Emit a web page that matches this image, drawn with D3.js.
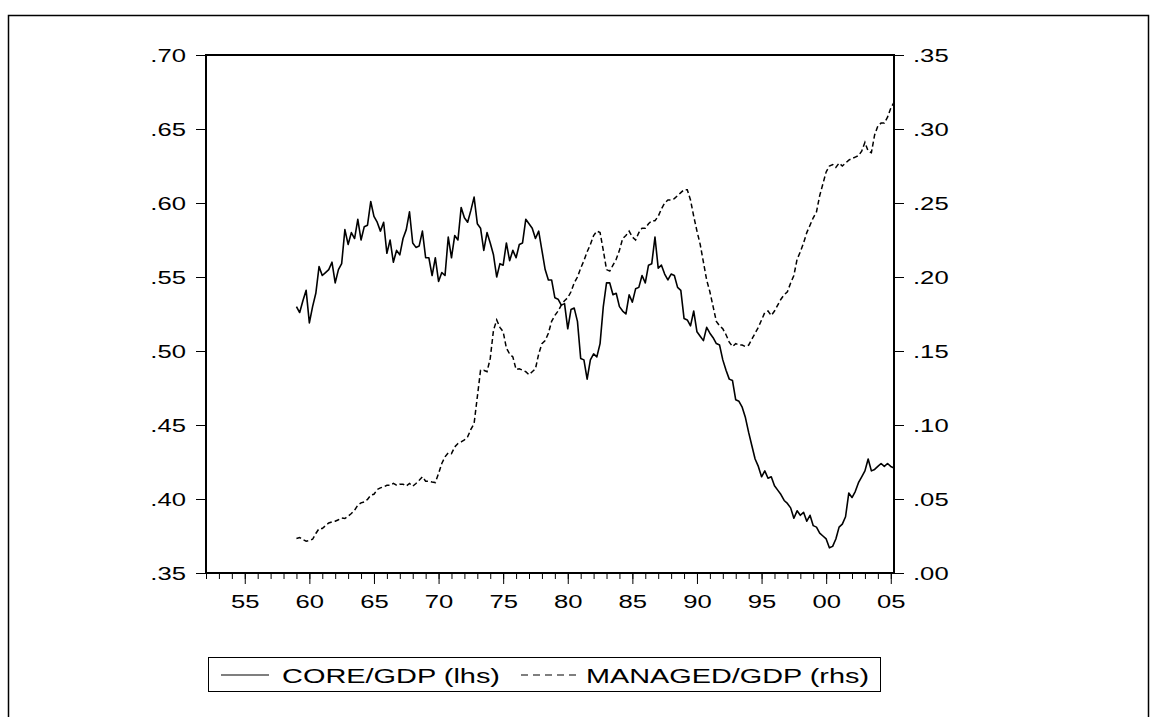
<!DOCTYPE html>
<html>
<head>
<meta charset="utf-8">
<script src="https://cdn.jsdelivr.net/npm/d3@7"></script>
<style>
  body { margin: 0; background: #fff; }
  svg { display: block; font-family: "Liberation Sans", Arial, sans-serif; }
</style>
</head>
<body>
<svg id="chart" width="1158" height="717"></svg>
<script>
// quarterly data, 1959Q1 .. 2005Q2
const startYear = 1959;

const coreGdp = [
  0.530, 0.526, 0.534, 0.541, 0.519, 0.530, 0.539, 0.557, 0.551, 0.553,
  0.555, 0.560, 0.546, 0.555, 0.559, 0.582, 0.572, 0.580, 0.576, 0.589,
  0.575, 0.584, 0.585, 0.601, 0.591, 0.587, 0.581, 0.587, 0.566, 0.575,
  0.560, 0.568, 0.565, 0.576, 0.582, 0.594, 0.573, 0.570, 0.571, 0.581,
  0.563, 0.563, 0.551, 0.563, 0.547, 0.553, 0.551, 0.577, 0.563, 0.578,
  0.575, 0.597, 0.590, 0.587, 0.595, 0.604, 0.586, 0.583, 0.568, 0.580,
  0.573, 0.565, 0.550, 0.559, 0.558, 0.573, 0.561, 0.568, 0.563, 0.572,
  0.573, 0.589, 0.586, 0.583, 0.576, 0.581, 0.568, 0.555, 0.548, 0.548,
  0.536, 0.535, 0.531, 0.532, 0.515, 0.528, 0.529, 0.520, 0.495, 0.494,
  0.481, 0.494, 0.498, 0.496, 0.505, 0.530, 0.546, 0.546, 0.538, 0.539,
  0.530, 0.527, 0.525, 0.538, 0.533, 0.542, 0.543, 0.551, 0.546, 0.558,
  0.559, 0.577, 0.556, 0.558, 0.552, 0.548, 0.552, 0.551, 0.543, 0.541,
  0.522, 0.521, 0.517, 0.527, 0.513, 0.510, 0.507, 0.516, 0.512, 0.509,
  0.505, 0.504, 0.494, 0.487, 0.481, 0.480, 0.467, 0.466, 0.462, 0.455,
  0.445, 0.436, 0.427, 0.422, 0.415, 0.419, 0.414, 0.415, 0.409, 0.406,
  0.403, 0.399, 0.397, 0.394, 0.387, 0.392, 0.389, 0.391, 0.385, 0.389,
  0.382, 0.381, 0.377, 0.375, 0.373, 0.367, 0.368, 0.373, 0.381, 0.383,
  0.388, 0.404, 0.401, 0.405, 0.411, 0.415, 0.419, 0.427, 0.419, 0.420,
  0.422, 0.424, 0.422, 0.424, 0.422, 0.421
];

const managedGdp = [
  0.0233, 0.0240, 0.0226, 0.0215, 0.0220, 0.0228, 0.0267, 0.0300, 0.0300, 0.0320,
  0.0338, 0.0345, 0.0350, 0.0360, 0.0372, 0.0368, 0.0384, 0.0402, 0.0424, 0.0458,
  0.0474, 0.0480, 0.0497, 0.0526, 0.0532, 0.0564, 0.0575, 0.0582, 0.0593, 0.0593,
  0.0605, 0.0593, 0.0600, 0.0600, 0.0588, 0.0605, 0.0586, 0.0605, 0.0627, 0.0650,
  0.0620, 0.0620, 0.0615, 0.0611, 0.0672, 0.0740, 0.0785, 0.0812, 0.0807, 0.0852,
  0.0875, 0.0886, 0.0900, 0.0920, 0.0970, 0.1010, 0.1190, 0.1370, 0.1370, 0.1360,
  0.1450, 0.1640, 0.1710, 0.1660, 0.1630, 0.1520, 0.1480, 0.1460, 0.1375, 0.1380,
  0.1370, 0.1360, 0.1340, 0.1360, 0.1380, 0.1480, 0.1550, 0.1570, 0.1620, 0.1700,
  0.1740, 0.1770, 0.1810, 0.1840, 0.1860, 0.1900, 0.1960, 0.2000, 0.2060, 0.2110,
  0.2170, 0.2220, 0.2280, 0.2310, 0.2300, 0.2180, 0.2050, 0.2040, 0.2080, 0.2120,
  0.2180, 0.2260, 0.2280, 0.2310, 0.2270, 0.2250, 0.2300, 0.2330, 0.2330, 0.2360,
  0.2380, 0.2380, 0.2410, 0.2460, 0.2500, 0.2520, 0.2520, 0.2530, 0.2550, 0.2570,
  0.2590, 0.2590, 0.2520, 0.2410, 0.2310, 0.2220, 0.2100, 0.1980, 0.1900, 0.1800,
  0.1700, 0.1670, 0.1650, 0.1610, 0.1560, 0.1530, 0.1550, 0.1540, 0.1540, 0.1530,
  0.1540, 0.1580, 0.1620, 0.1660, 0.1710, 0.1760, 0.1770, 0.1740, 0.1770, 0.1810,
  0.1850, 0.1880, 0.1900, 0.1960, 0.2010, 0.2120, 0.2170, 0.2230, 0.2300, 0.2350,
  0.2400, 0.2440, 0.2550, 0.2630, 0.2710, 0.2750, 0.2760, 0.2740, 0.2770, 0.2750,
  0.2770, 0.2790, 0.2800, 0.2810, 0.2820, 0.2850, 0.2910, 0.2850, 0.2840, 0.2960,
  0.3020, 0.3040, 0.3040, 0.3080, 0.3140, 0.3180
];

const leftTicks = [0.35, 0.40, 0.45, 0.50, 0.55, 0.60, 0.65, 0.70];
const rightTicks = [0.00, 0.05, 0.10, 0.15, 0.20, 0.25, 0.30, 0.35];
const yearTicks = [1955, 1960, 1965, 1970, 1975, 1980, 1985, 1990, 1995, 2000, 2005];
const legendLabels = ["CORE/GDP (lhs)", "MANAGED/GDP (rhs)"];

// layout
const plot = { left: 206, top: 55, right: 894, bottom: 573 };
const stretch = 1.35; // the original text is wide, stretch it horizontally

const svg = d3.select("#chart");

// outer frame
svg.append("rect")
  .attr("x", 8.5).attr("y", 15.5)
  .attr("width", 1140).attr("height", 760)
  .attr("fill", "none").attr("stroke", "#000").attr("stroke-width", 1.5);

const x = d3.scaleLinear().domain([1952, 2005.25]).range([plot.left, plot.right]);
const yL = d3.scaleLinear().domain([0.35, 0.70]).range([plot.bottom, plot.top]);
const yR = d3.scaleLinear().domain([0.00, 0.35]).range([plot.bottom, plot.top]);

const fmt = (v) => d3.format(".2f")(v).replace(/^0/, "");

// left axis
svg.append("g")
  .attr("transform", "translate(" + plot.left + ",0)")
  .call(d3.axisLeft(yL).tickValues(leftTicks).tickFormat(fmt).tickSize(10).tickPadding(10));

// right axis
svg.append("g")
  .attr("transform", "translate(" + plot.right + ",0)")
  .call(d3.axisRight(yR).tickValues(rightTicks).tickFormat(fmt).tickSize(10).tickPadding(9));

// bottom axis: minor yearly ticks, then major ticks with labels
const minorYears = d3.range(1952, 2006);
svg.append("g")
  .attr("transform", "translate(0," + plot.bottom + ")")
  .call(d3.axisBottom(x).tickValues(minorYears).tickFormat("").tickSize(6).tickSizeOuter(0));
svg.append("g")
  .attr("transform", "translate(0," + plot.bottom + ")")
  .call(d3.axisBottom(x).tickValues(yearTicks)
    .tickFormat((d) => String(d % 100).padStart(2, "0"))
    .tickSize(11).tickSizeOuter(0).tickPadding(11));

svg.selectAll(".domain").remove();
svg.selectAll(".tick line").attr("stroke", "#000").attr("stroke-width", 1);
svg.selectAll(".tick text")
  .attr("fill", "#000")
  .style("font-size", "19px")
  .attr("x", function () { return (+this.getAttribute("x") || 0) / stretch; })
  .attr("transform", "scale(" + stretch + ",1)");

// plot frame
svg.append("rect")
  .attr("x", plot.left).attr("y", plot.top)
  .attr("width", plot.right - plot.left).attr("height", plot.bottom - plot.top)
  .attr("fill", "none").attr("stroke", "#000").attr("stroke-width", 2);

const t = (i) => startYear + i / 4;

const coreLine = d3.line().x((d, i) => x(t(i))).y((d) => yL(d));
const managedLine = d3.line().x((d, i) => x(t(i))).y((d) => yR(d));

svg.append("path")
  .datum(coreGdp)
  .attr("fill", "none").attr("stroke", "#000").attr("stroke-width", 1.6)
  .attr("stroke-linejoin", "round")
  .attr("d", coreLine);

svg.append("path")
  .datum(managedGdp)
  .attr("fill", "none").attr("stroke", "#000").attr("stroke-width", 1.5)
  .attr("stroke-dasharray", "5,3")
  .attr("d", managedLine);

// legend
const lg = svg.append("g");
lg.append("rect")
  .attr("x", 208.5).attr("y", 657.5).attr("width", 672).attr("height", 34)
  .attr("fill", "#fff").attr("stroke", "#000").attr("stroke-width", 1);

lg.append("line")
  .attr("x1", 221).attr("x2", 269).attr("y1", 675).attr("y2", 675)
  .attr("stroke", "#000").attr("stroke-width", 1.2);
lg.append("text")
  .attr("x", 282).attr("y", 682.5)
  .attr("textLength", 218).attr("lengthAdjust", "spacingAndGlyphs")
  .style("font-size", "21px")
  .text(legendLabels[0]);

lg.append("line")
  .attr("x1", 521).attr("x2", 576).attr("y1", 675).attr("y2", 675)
  .attr("stroke", "#000").attr("stroke-width", 1.2)
  .attr("stroke-dasharray", "7,5");
lg.append("text")
  .attr("x", 586).attr("y", 682.5)
  .attr("textLength", 283).attr("lengthAdjust", "spacingAndGlyphs")
  .style("font-size", "21px")
  .text(legendLabels[1]);
</script>
</body>
</html>
